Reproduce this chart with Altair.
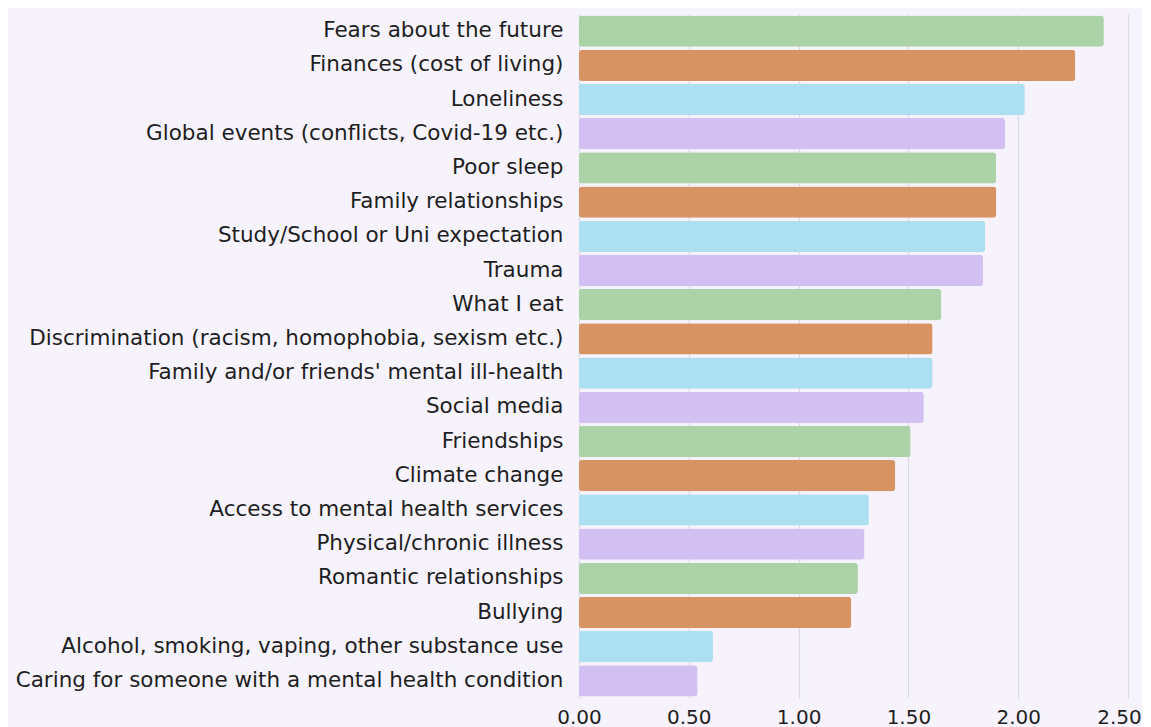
import altair as alt
import pandas as pd

categories = [
    "Fears about the future",
    "Finances (cost of living)",
    "Loneliness",
    "Global events (conflicts, Covid-19 etc.)",
    "Poor sleep",
    "Family relationships",
    "Study/School or Uni expectation",
    "Trauma",
    "What I eat",
    "Discrimination (racism, homophobia, sexism etc.)",
    "Family and/or friends' mental ill-health",
    "Social media",
    "Friendships",
    "Climate change",
    "Access to mental health services",
    "Physical/chronic illness",
    "Romantic relationships",
    "Bullying",
    "Alcohol, smoking, vaping, other substance use",
    "Caring for someone with a mental health condition",
]
values = [2.39, 2.26, 2.03, 1.94, 1.90, 1.90, 1.85, 1.84, 1.65, 1.61,
          1.61, 1.57, 1.51, 1.44, 1.32, 1.30, 1.27, 1.24, 0.61, 0.54]
groups = ["g1", "g2", "g3", "g4"] * 5
palette = ["#abd3a7", "#d89363", "#ace0f0", "#d3c0f3"]
x_ticks = [0, 0.5, 1.0, 1.5, 2.0, 2.5]

df = pd.DataFrame({"category": categories, "value": values, "group": groups})

FONT = "DejaVu Sans"

chart = alt.Chart(df).mark_bar(cornerRadius=3).encode(
    y=alt.Y("category:N", sort=None, title=None,
            scale=alt.Scale(paddingInner=0.085, paddingOuter=0.0425),
            axis=alt.Axis(labelFontSize=21.5, labelFont=FONT, labelColor="#1e1e1e",
                          ticks=False, domain=False, labelPadding=16,
                          labelLimit=600, minExtent=571, maxExtent=571)),
    x=alt.X("value:Q", title=None,
            scale=alt.Scale(domain=[0, 2.5], nice=False),
            axis=alt.Axis(values=x_ticks, format=".2f", labelFontSize=20,
                          labelFont=FONT, labelColor="#1e1e1e", ticks=False,
                          domain=False, grid=True, gridColor="#dcd9e4",
                          gridWidth=1.2, labelPadding=9, labelFlush=False,
                          labelOffset={"condition": {"test": "datum.value >= 2.5", "value": -9},
                                       "value": 0})),
    color=alt.Color("group:N", scale=alt.Scale(domain=["g1", "g2", "g3", "g4"], range=palette),
                    legend=None),
).properties(
    width=549,
    height=684,
    background="#f6f3fd",
    padding={"left": 0, "top": 6, "right": 0, "bottom": 0},
).configure_view(stroke=None)

chart.save("out.html", embed_options={"renderer": "svg", "actions": False})
